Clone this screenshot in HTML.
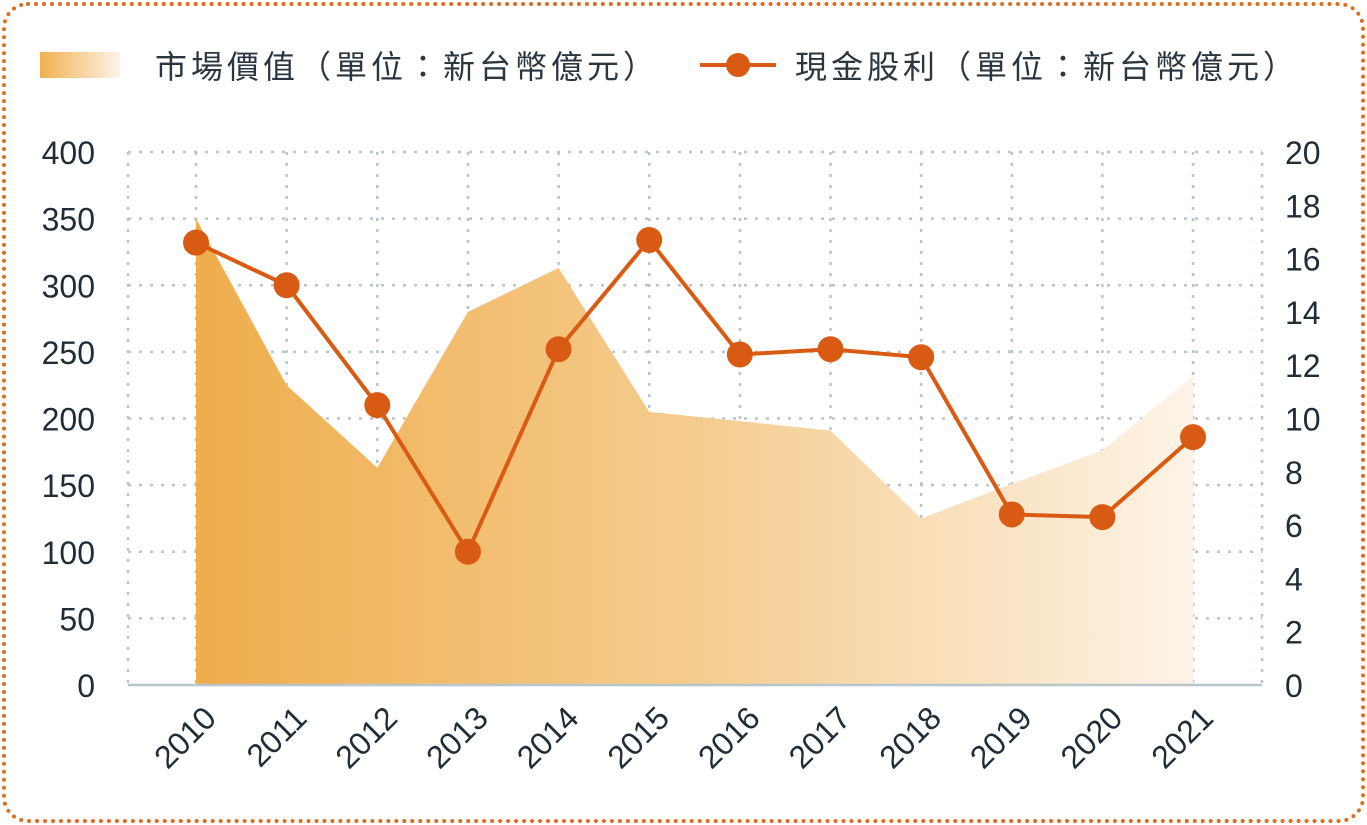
<!DOCTYPE html>
<html><head><meta charset="utf-8">
<style>
html,body{margin:0;padding:0;background:#fff;}
body{width:1367px;height:825px;overflow:hidden;position:relative;font-family:"Liberation Sans","Noto Sans CJK TC",sans-serif;}
#frame{position:absolute;left:2px;top:2px;width:1363px;height:821px;border:4px dotted #e06a1b;border-radius:26px;box-sizing:border-box;}
svg{position:absolute;left:0;top:0;}
</style></head>
<body>
<div id="frame"></div>
<svg id="chart" width="1367" height="825">
<defs>
<linearGradient id="ag" x1="196" x2="1193" y1="0" y2="0" gradientUnits="userSpaceOnUse">
<stop offset="0" stop-color="#efad4c"/>
<stop offset="0.5" stop-color="#f5cc8f"/>
<stop offset="1" stop-color="#fdf3e6"/>
</linearGradient>
<linearGradient id="lg" x1="0" x2="1"><stop offset="0" stop-color="#f0b150"/><stop offset="1" stop-color="#fdf3e6"/></linearGradient>
</defs>
<g>
<rect x="40" y="52" width="80" height="26" fill="url(#lg)"/>
<text x="155" y="78" font-size="32" letter-spacing="4" fill="#2a3640">市場價值（單位：新台幣億元）</text>
<line x1="700" y1="65" x2="776" y2="65" stroke="#d95a12" stroke-width="4"/>
<circle cx="738" cy="65" r="12" fill="#d95a12"/>
<text x="795" y="78" font-size="32" letter-spacing="4" fill="#2a3640">現金股利（單位：新台幣億元）</text>
</g>
<g id="grid"></g>
<g id="area"></g>
<g id="axes"></g>
<g id="line"></g>
</svg>
<script>
const years=["2010","2011","2012","2013","2014","2015","2016","2017","2018","2019","2020","2021"];
const marketValue=[350,225,163,280,313,205,198,191,125,151,176,232];
const dividend=[16.6,15.0,10.5,5.0,12.6,16.7,12.4,12.6,12.3,6.4,6.3,9.3];
const leftTicks=[0,50,100,150,200,250,300,350,400];
const rightTicks=[0,2,4,6,8,10,12,14,16,18,20];
const NS="http://www.w3.org/2000/svg";
const X0=196,DX=90.64,Y0=685,Y1=152;
const x=i=>X0+i*DX;
const yL=v=>Y0-(v/400)*(Y0-Y1);
const yR=v=>Y0-(v/20)*(Y0-Y1);
function mk(t,a,p){const e=document.createElementNS(NS,t);for(const k in a)e.setAttribute(k,a[k]);p.appendChild(e);return e;}
const grid=document.getElementById('grid'),area=document.getElementById('area'),axes=document.getElementById('axes'),line=document.getElementById('line');
const gs={stroke:"#b8c6cc","stroke-width":2.5,"stroke-dasharray":"3 8"};
leftTicks.forEach(v=>{if(v===0)return;const l=mk('line',Object.assign({x1:128,x2:1262,y1:yL(v),y2:yL(v)},gs),grid);

});
const vx=[128].concat(years.map((_,i)=>x(i))).concat([1262]);
vx.forEach(p=>{const l=mk('line',Object.assign({x1:p,x2:p,y1:Y1,y2:Y0},gs),grid);

});
let d=`M${x(0)},${Y0}`;marketValue.forEach((v,i)=>d+=` L${x(i)},${yL(v)}`);d+=` L${x(years.length-1)},${Y0}Z`;
const ap=mk('path',{d:d,fill:"url(#ag)"},area);


const ax=mk('line',{x1:128,x2:1262,y1:Y0,y2:Y0,stroke:"#b8c6cc","stroke-width":2.5},axes);


const ts={fill:"#1f2d38","font-size":"32","font-family":"Liberation Sans, sans-serif"};
leftTicks.forEach(v=>{const t=mk('text',Object.assign({x:95,y:yL(v)+12,"text-anchor":"end"},ts),axes);t.textContent=v;

});
rightTicks.forEach(v=>{const t=mk('text',Object.assign({x:1285,y:yR(v)+12},ts),axes);t.textContent=v;

});
years.forEach((yv,i)=>{const t=mk('text',Object.assign({x:x(i)+22,y:720,"text-anchor":"end",transform:`rotate(-45 ${x(i)+22} 720)`},ts),axes);t.textContent=yv;

});
const pts=dividend.map((v,i)=>`${x(i)},${yR(v)}`).join(' ');
const pl=mk('polyline',{points:pts,fill:"none",stroke:"#d95a12","stroke-width":4},line);


dividend.forEach((v,i)=>{const c=mk('circle',{cx:x(i),cy:yR(v),r:13,fill:"#d95a12"},line);

});
</script>
</body></html>
